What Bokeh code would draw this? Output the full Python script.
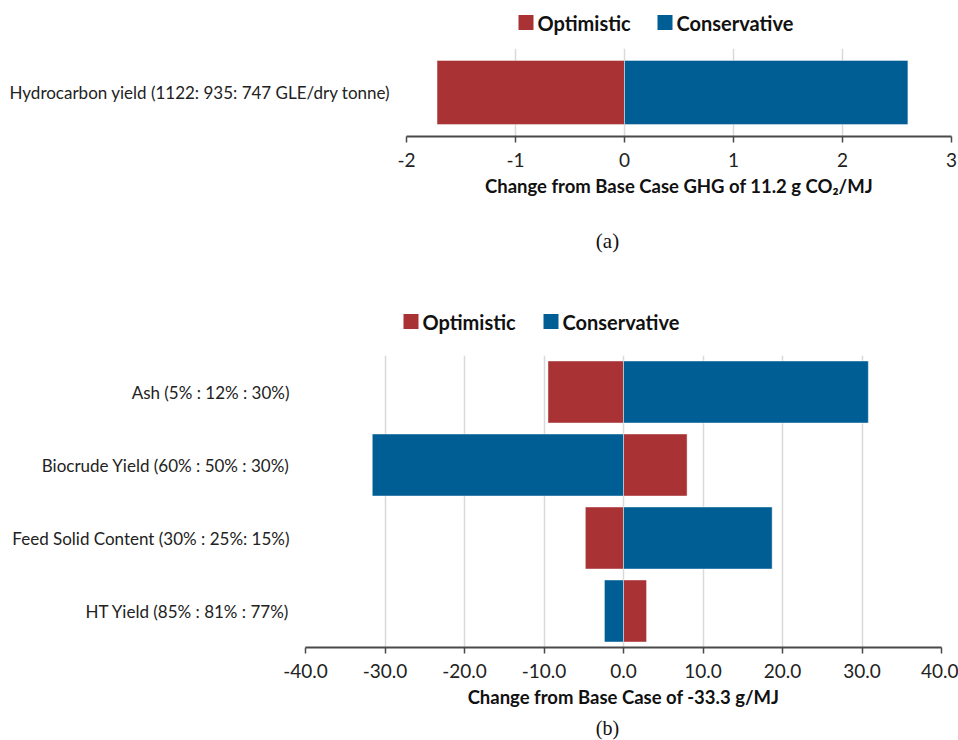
from bokeh.plotting import figure
from bokeh.models import Range1d, FactorRange, ColumnDataSource
from bokeh.core.properties import value
from bokeh.layouts import column
from bokeh.embed import file_html
from bokeh.resources import INLINE

# ---- data -------------------------------------------------------------
series_names = ["Optimistic", "Conservative"]

cats_a = ["Hydrocarbon yield (1122: 935: 747 GLE/dry tonne)"]
opt_a = [-1.72]
con_a = [2.60]
ticks_a = [-2, -1, 0, 1, 2, 3]

cats_b = ["Ash (5% : 12% : 30%)",
          "Biocrude Yield (60% : 50% : 30%)",
          "Feed Solid Content (30% : 25%: 15%)",
          "HT Yield (85% : 81% : 77%)"]
opt_b = [-9.5, 8.0, -4.8, 2.9]
con_b = [30.8, -31.6, 18.7, -2.4]
ticks_b = [-40, -30, -20, -10, 0, 10, 20, 30, 40]

xtitle_a = "Change from Base Case GHG of 11.2 g CO\u2082/MJ"
xtitle_b = "Change from Base Case of -33.3 g/MJ"
captions = ["(a)", "(b)"]

# ---- style ------------------------------------------------------------
RED = "#A83234"
BLUE = "#005E94"
FONT = "Lato"
AXIS_COL = "#4a4a4a"
GRID_COL = "#D9D9D9"
W = 958


def strip(height):
    """Blank panel in pixel coordinates, used for legends and captions."""
    s = figure(width=W, height=height, output_backend="svg",
               toolbar_location=None, x_range=Range1d(0, W),
               y_range=Range1d(0, height), x_axis_type=None,
               y_axis_type=None, min_border=0, frame_align=False)
    s.outline_line_color = None
    s.xgrid.visible = False
    s.ygrid.visible = False
    return s


def add_legend(s, swatch_x, y, size=15):
    """Legend swatches + bold labels; swatch_x = left edge of each swatch."""
    s.rect(x=[sx + size / 2 for sx in swatch_x], y=[y, y],
           width=size, height=size, fill_color=[RED, BLUE], line_color=None)
    s.text(x=[sx + size + 4 for sx in swatch_x], y=[y, y],
           text=series_names, text_font=value(FONT), text_font_size="20px",
           text_font_style="bold", text_color="#111111",
           text_align="left", text_baseline="middle")


def add_caption(s, text, x, y, size="21px"):
    s.text(x=[x], y=[y], text=[text], text_font=value("Liberation Serif"),
           text_font_size=size, text_align="center",
           text_baseline="middle", text_color="#111111")


def tornado(cats, opt, con, xr, ticks, xtitle, height, border_top,
            border_bottom, left, right, bar_h, decimals):
    src = ColumnDataSource(dict(cat=cats, opt=opt, con=con))
    p = figure(width=W, height=height, output_backend="svg",
               toolbar_location=None, frame_align=False,
               x_range=Range1d(*xr),
               y_range=FactorRange(factors=list(reversed(cats)),
                                   range_padding=0),
               min_border_left=left, min_border_right=right,
               min_border_top=border_top, min_border_bottom=border_bottom)
    p.outline_line_color = None

    p.hbar(y="cat", left=0, right="opt", height=bar_h, source=src,
           fill_color=RED, line_color="white", line_alpha=0.45, line_width=1)
    p.hbar(y="cat", left=0, right="con", height=bar_h, source=src,
           fill_color=BLUE, line_color="white", line_alpha=0.45, line_width=1)

    p.xgrid.grid_line_color = GRID_COL
    p.xgrid.grid_line_width = 1.5
    p.xgrid.ticker = ticks
    p.ygrid.grid_line_color = None

    xa = p.xaxis[0]
    xa.ticker = ticks
    xa.major_label_overrides = {t: f"{t:.{decimals}f}" for t in ticks}
    xa.axis_line_color = AXIS_COL
    xa.axis_line_width = 2
    xa.major_tick_line_color = AXIS_COL
    xa.major_tick_line_width = 1.5
    xa.major_tick_in = 0
    xa.major_tick_out = 6
    xa.minor_tick_line_color = None
    xa.major_label_text_font = FONT
    xa.major_label_text_font_size = "19px"
    xa.major_label_text_color = "#222222"
    xa.major_label_standoff = 10
    xa.axis_label = xtitle
    xa.axis_label_text_font = FONT
    xa.axis_label_text_font_size = "18.5px"
    xa.axis_label_text_font_style = "bold"
    xa.axis_label_text_color = "#111111"
    xa.axis_label_standoff = 5

    ya = p.yaxis[0]
    ya.axis_line_color = None
    ya.major_tick_line_color = None
    ya.minor_tick_line_color = None
    ya.major_label_text_font = FONT
    ya.major_label_text_font_size = "17px"
    ya.major_label_text_color = "#222222"
    ya.major_label_standoff = 10
    return p


# legend for panel (a)
leg_a = strip(44)
add_legend(leg_a, [518, 657], 22)

# panel (a)
pa = tornado(cats_a, opt_a, con_a, (-2, 3), ticks_a, xtitle_a,
             height=171, border_top=4, border_bottom=79,
             left=406, right=7, bar_h=0.73, decimals=0)

# caption (a) and legend for panel (b)
mid = strip(130)
add_caption(mid, captions[0], 607, 105)
add_legend(mid, [403, 543], 24)

# panel (b)
pb = tornado(cats_b, opt_b, con_b, (-40, 40), ticks_b, xtitle_b,
             height=369, border_top=10, border_bottom=67,
             left=305, right=17, bar_h=0.85, decimals=1)

# caption (b)
cap_b = strip(26)
add_caption(cap_b, captions[1], 607, 13, size="20px")

layout = column(leg_a, pa, mid, pb, cap_b, spacing=0)
open("out.html", "w").write(file_html(layout, INLINE))
